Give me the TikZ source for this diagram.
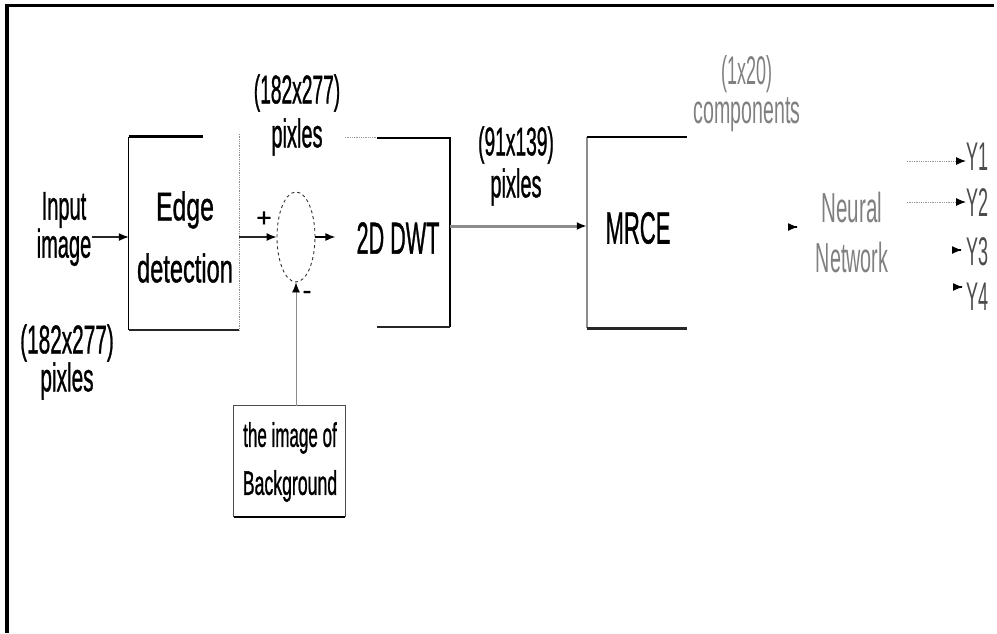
\documentclass[tikz,border=0pt]{standalone}
\usepackage{fontspec}
\usepackage{graphicx}
\setmainfont{Liberation Sans}
\newfontfamily\heavy[FakeBold=1.2]{Liberation Sans}
\usetikzlibrary{arrows.meta,shapes.geometric}
\newcommand\sq[2]{\scalebox{#1}[1]{#2}}
\begin{document}
\begin{tikzpicture}[x=1pt,y=-1pt,
  lbl/.style={inner sep=0pt, align=center},
  big/.style={font=\heavy\fontsize{40}{40}\selectfont},
  arr/.style={-{Latex[length=10pt,width=8pt,color=black]}, line width=1.3pt},
  greytxt/.style={text=black!50},
]
\useasboundingbox (0,0) rectangle (997,633);
% frame (left and top only)
\draw[line width=3.5pt] (7,633) -- (7,5.5) -- (994,5.5);

% ---------- boxes ----------
\node[inner sep=0pt, minimum width=110pt, minimum height=193pt] (edge) at (184,233.5) {};
\node[inner sep=0pt, minimum width=105pt, minimum height=189pt] (dwt) at (397.5,232.5) {};
\node[inner sep=0pt, minimum width=100pt, minimum height=191pt] (mrce) at (637,232.5) {};
\node[inner sep=0pt, minimum width=111pt, minimum height=111pt] (bg) at (289.5,461.5) {};
\node[ellipse, draw=black!80, dashed, line width=0.9pt, inner sep=0pt,
      minimum width=38pt, minimum height=90pt] (sum) at (296,237) {};

% edge detection box borders
\draw[line width=2.8pt] (edge.north west) -- ([xshift=74pt]edge.north west);
\draw[line width=1.2pt] (edge.north west) -- (edge.south west);
\draw[black!45, densely dotted, line width=0.8pt] ([yshift=3pt]edge.north east) -- (edge.south east);
\draw[line width=2.2pt, black!85] (edge.south west) -- (edge.south east);

% 2D DWT box borders
\draw[black!40, densely dotted, line width=0.8pt] (dwt.north west) -- ([xshift=32pt]dwt.north west);
\draw[line width=2pt] ([xshift=32pt]dwt.north west) -- (dwt.north east) -- (dwt.south east);
\draw[line width=2.4pt, black!85] ([xshift=32pt]dwt.south west) -- (dwt.south east);

% MRCE box borders
\draw[line width=2.6pt, black!45] (mrce.north west) -- (mrce.south west);
\draw[line width=2pt] (mrce.north west) -- (mrce.north east);
\draw[line width=2.6pt, black!85] (mrce.south west) -- (mrce.south east);

% background box
\draw[line width=0.8pt, black!70] (bg.south west) -- (bg.north west) -- (bg.north east) -- (bg.south east);
\draw[line width=2pt] (bg.south west) -- (bg.south east);

% ---------- texts ----------
\node[lbl, big] (input) at (64,229) {\sq{.5}{Input}\\[-2pt]\sq{.5}{image}};
\node[lbl, big] (insize) at (67,362) {\sq{.52}{(182x277)}\\[-2pt]\sq{.52}{pixles}};
\node[lbl, font=\heavy\fontsize{40}{62}\selectfont] (edgeT) at (185,237) {\sq{.62}{Edge}\\\sq{.59}{detection}};
\node[lbl, big] (topsize) at (297,115) {\sq{.48}{(182x277)}\\[4pt]\sq{.5}{pixles}};
\node[lbl, font=\heavy\fontsize{45}{45}\selectfont] (dwtT) at (398,238) {\sq{.48}{2D DWT}};
\node[lbl, big] (midsize) at (516,166) {\sq{.48}{(91x139)}\\[2pt]\sq{.5}{pixles}};
\node[lbl, font=\heavy\fontsize{45}{45}\selectfont] (mrceT) at (638,228) {\sq{.49}{MRCE}};
\node[lbl, font=\fontsize{40}{40}\selectfont, greytxt] (comp) at (747,94) {\sq{.45}{(1x20)}\\[-1pt]\sq{.49}{components}};
\node[lbl, font=\fontsize{42}{50}\selectfont, greytxt] (nn) at (852,232) {\sq{.49}{Neural}\\\sq{.47}{Network}};
\node[lbl, font=\heavy\fontsize{34}{34}\selectfont] (bgT) at (290,462) {\sq{.5}{the image of}\\[14pt]\sq{.52}{Background}};
\node[lbl, font=\heavy\fontsize{26}{26}\selectfont] (plus) at (264,219) {+};
\node[lbl, font=\heavy\fontsize{26}{26}\selectfont] (minus) at (307,295) {-};
\node[lbl, font=\fontsize{40}{40}\selectfont, text=black!70, anchor=west] (y1) at (966,157) {\sq{.45}{Y1}};
\node[lbl, font=\fontsize{40}{40}\selectfont, text=black!70, anchor=west] (y2) at (966,203) {\sq{.45}{Y2}};
\node[lbl, font=\fontsize{40}{40}\selectfont, text=black!70, anchor=west] (y3) at (966,252) {\sq{.45}{Y3}};
\node[lbl, font=\fontsize{40}{40}\selectfont, text=black!70, anchor=west] (y4) at (966,297) {\sq{.45}{Y4}};

% ---------- connectors ----------
\coordinate (inA) at (92,237);
\draw[arr, black!85] (inA) -- (edge.west |- inA);
\draw[arr, black!85] (edge.east |- sum.west) -- (sum.west);
\draw[arr, shorten >=21pt] (sum.east) -- (dwtT.west |- sum.east);
\draw[arr, black!45, line width=0.8pt] (sum.south |- bg.north) -- (sum.south);
\coordinate (dOut) at (450,226);
\draw[arr, black!45, line width=3pt] (dOut) -- (mrce.west |- dOut);
\coordinate (nnIn) at (798,227);
\draw[arr] ([xshift=-1pt]nnIn) -- (nnIn);
\coordinate (o1) at (907,161);
\coordinate (o2) at (907,202);
\draw[arr, black!40, densely dotted, line width=1pt] (o1) -- (y1.west |- o1);
\draw[arr, black!40, densely dotted, line width=1pt] (o2) -- (y2.west |- o2);
\coordinate (o3) at (962,250);
\coordinate (o4) at (963,287);
\draw[arr] ([xshift=-1pt]o3) -- (o3);
\draw[arr] ([xshift=-1pt]o4) -- (o4);
\end{tikzpicture}
\end{document}
